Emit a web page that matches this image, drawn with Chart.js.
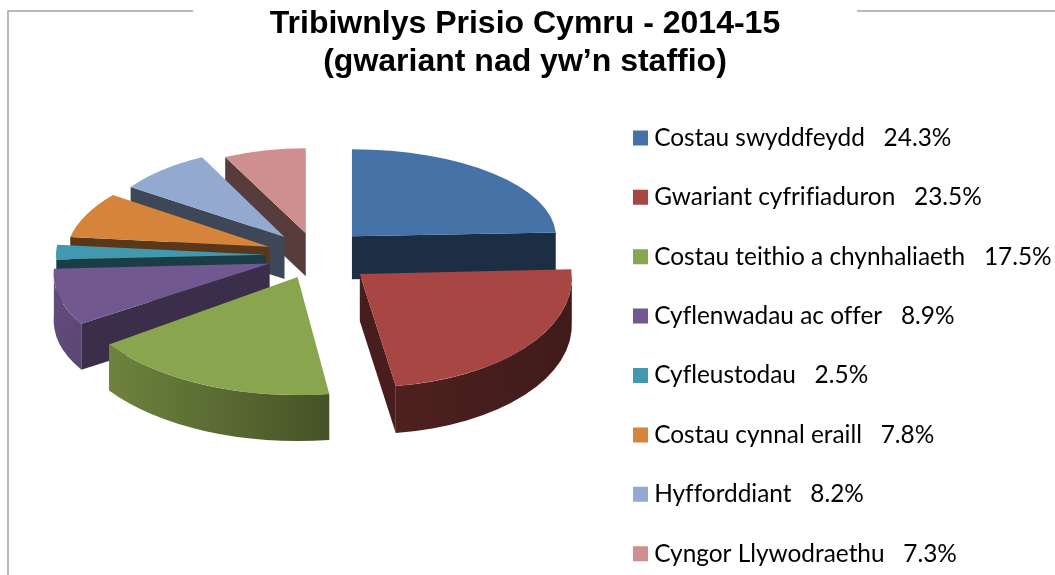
<!DOCTYPE html>
<html>
<head>
<meta charset="utf-8">
<script src="https://cdn.jsdelivr.net/npm/chart.js@4/dist/chart.umd.js"></script>
<style>
  html, body { margin: 0; padding: 0; background: #fff; overflow: hidden; }
  canvas { display: block; }
</style>
</head>
<body>
<canvas id="pieChart" width="1055" height="575"></canvas>
<script>
const categories = [
  "Costau swyddfeydd",
  "Gwariant cyfrifiaduron",
  "Costau teithio a chynhaliaeth",
  "Cyflenwadau ac offer",
  "Cyfleustodau",
  "Costau cynnal eraill",
  "Hyfforddiant",
  "Cyngor Llywodraethu"
];
const shares = [24.3, 23.5, 17.5, 8.9, 2.5, 7.8, 8.2, 7.3];
const titleLines = ["Tribiwnlys Prisio Cymru - 2014-15", "(gwariant nad yw\u2019n staffio)"];
const colors = ["#4572a7", "#a84644", "#89a54e", "#71588f", "#4198af", "#d6833b", "#93a9cf", "#cf8f8e"];

// Fake 3D view: the tilted, exploded look the spreadsheet gave the original
const pieCenter = { x: 316, y: 255.5 };
const tilt = 0.51;
// nearer slices come out a bit bigger, so these are per slice
const sliceExplode = [52, 57, 46, 49, 50, 50, 48, 45];
const sliceRx = [204, 212, 230, 215, 210, 202, 186, 182];
const sliceRy = [87, 113, 118, 105, 95, 92, 89, 85];
const sliceSkew = [0, 0.06, 0, -0.2, 0, -0.21, 0, 0];
const sliceDepth = [43, 47, 46, 46, 44, 43, 42, 43];
const faceShade = [0.4, 0.42, 0.42, 0.52, 0.4, 0.42, 0.42, 0.42];

function shade(hex, f) {
  const n = parseInt(hex.slice(1), 16);
  const r = Math.round(((n >> 16) & 255) * f);
  const g = Math.round(((n >> 8) & 255) * f);
  const b = Math.round((n & 255) * f);
  return `rgb(${r}, ${g}, ${b})`;
}

function wallGradient(ctx, color, ax) {
  const g = ctx.createLinearGradient(60 - ax, 0, 570 - ax, 0);
  g.addColorStop(0, shade(color, 0.86));
  g.addColorStop(0.53, shade(color, 0.5));
  g.addColorStop(0.67, shade(color, 0.45));
  g.addColorStop(1, shade(color, 0.38));
  return g;
}

function drawSlice(ctx, arc, i) {
  const mid = (arc.startAngle + arc.endAngle) / 2;
  const ax = pieCenter.x + Math.cos(mid) * sliceExplode[i];
  const ay = pieCenter.y + Math.sin(mid) * sliceExplode[i] * tilt;
  const rx = sliceRx[i];
  const ry = sliceRy[i];
  const depth = sliceDepth[i];
  const skew = sliceSkew[i];
  const dropX = -skew * depth; // keeps the extrusion straight down on screen
  const start = arc.startAngle;
  const end = arc.endAngle;

  ctx.save();
  ctx.translate(ax, ay);
  ctx.transform(1, 0, skew, 1, 0, 0);

  // Cut faces, only the ones turned towards the viewer
  ctx.fillStyle = shade(colors[i], faceShade[i]);
  [[start, -Math.cos(start)], [end, Math.cos(end)]].forEach(([a, facing]) => {
    if (facing <= 0.001) return;
    const px = Math.cos(a) * rx;
    const py = Math.sin(a) * ry;
    ctx.beginPath();
    ctx.moveTo(0, 0);
    ctx.lineTo(px, py);
    ctx.lineTo(px + dropX, py + depth);
    ctx.lineTo(dropX, depth);
    ctx.closePath();
    ctx.fill();
  });

  // Rim, front half of the ellipse only
  const a1 = Math.max(start, 0);
  const a2 = Math.min(end, Math.PI);
  if (a2 > a1) {
    ctx.fillStyle = wallGradient(ctx, colors[i], ax);
    ctx.beginPath();
    ctx.ellipse(0, 0, rx, ry, 0, a1, a2);
    ctx.ellipse(dropX, depth, rx, ry, 0, a2, a1, true);
    ctx.closePath();
    ctx.fill();
  }

  // Top face is the library's own arc, squashed into place
  ctx.scale(rx / arc.outerRadius, ry / arc.outerRadius);
  ctx.translate(-arc.x, -arc.y);
  arc.draw(ctx);
  ctx.restore();
}

const pie3d = {
  id: "pie3d",
  beforeDraw(chart) {
    const ctx = chart.ctx;
    ctx.textRendering = "optimizeSpeed"; // no fi ligature in the legend
    // Outer frame, broken behind the title
    ctx.save();
    ctx.strokeStyle = "#a3a3a3";
    ctx.lineWidth = 1.5;
    ctx.beginPath();
    ctx.moveTo(8, 575);
    ctx.lineTo(8, 11);
    ctx.lineTo(193, 11);
    ctx.moveTo(857, 11);
    ctx.lineTo(1055, 11);
    ctx.stroke();
    ctx.restore();
  },
  afterLayout(chart) {
    const legend = chart.legend;
    const w = legend.right - legend.left;
    legend.left = 639 - legend.options.labels.padding;
    legend.right = legend.left + w;
    legend.top = 90.7;
    legend.bottom = 640; // last row runs right down to the page edge
    // title is centred over the whole page, not just the plot
    chart.titleBlock.left = 0;
    chart.titleBlock.right = 1050;
  },
  beforeDatasetDraw(chart, args) {
    const ctx = chart.ctx;
    const arcs = args.meta.data.map((arc, i) => ({ arc, i }));
    // Paint back to front so nearer slices cover the walls behind them
    arcs.sort((p, q) => Math.sin((p.arc.startAngle + p.arc.endAngle) / 2) - Math.sin((q.arc.startAngle + q.arc.endAngle) / 2));
    arcs.forEach(({ arc, i }) => drawSlice(ctx, arc, i));
    return false;
  }
};

new Chart(document.getElementById("pieChart"), {
  type: "pie",
  data: {
    labels: categories.map((name, i) => `${name}   ${shares[i]}%`),
    datasets: [{
      data: shares,
      backgroundColor: colors,
      borderWidth: 0
    }]
  },
  options: {
    responsive: false,
    animation: false,
    devicePixelRatio: 1,
    plugins: {
      title: {
        display: true,
        fullSize: false,
        text: titleLines,
        color: "#000",
        font: { family: "'Liberation Sans'", size: 32, weight: "bold", lineHeight: 1.19 },
        padding: { top: 5, bottom: 0 }
      },
      legend: {
        position: "right",
        align: "start",
        labels: {
          color: "#000",
          font: { family: "Lato", size: 24.4 },
          // thin box plus a thick stroke: a 15px square sitting closer to its text
          boxWidth: 3,
          boxHeight: 3,
          padding: 35,
          generateLabels(chart) {
            return Chart.overrides.pie.plugins.legend.labels.generateLabels(chart).map(item => ({
              ...item,
              strokeStyle: item.fillStyle,
              lineWidth: 12
            }));
          }
        }
      },
      tooltip: { enabled: false }
    }
  },
  plugins: [pie3d]
});
</script>
</body>
</html>
